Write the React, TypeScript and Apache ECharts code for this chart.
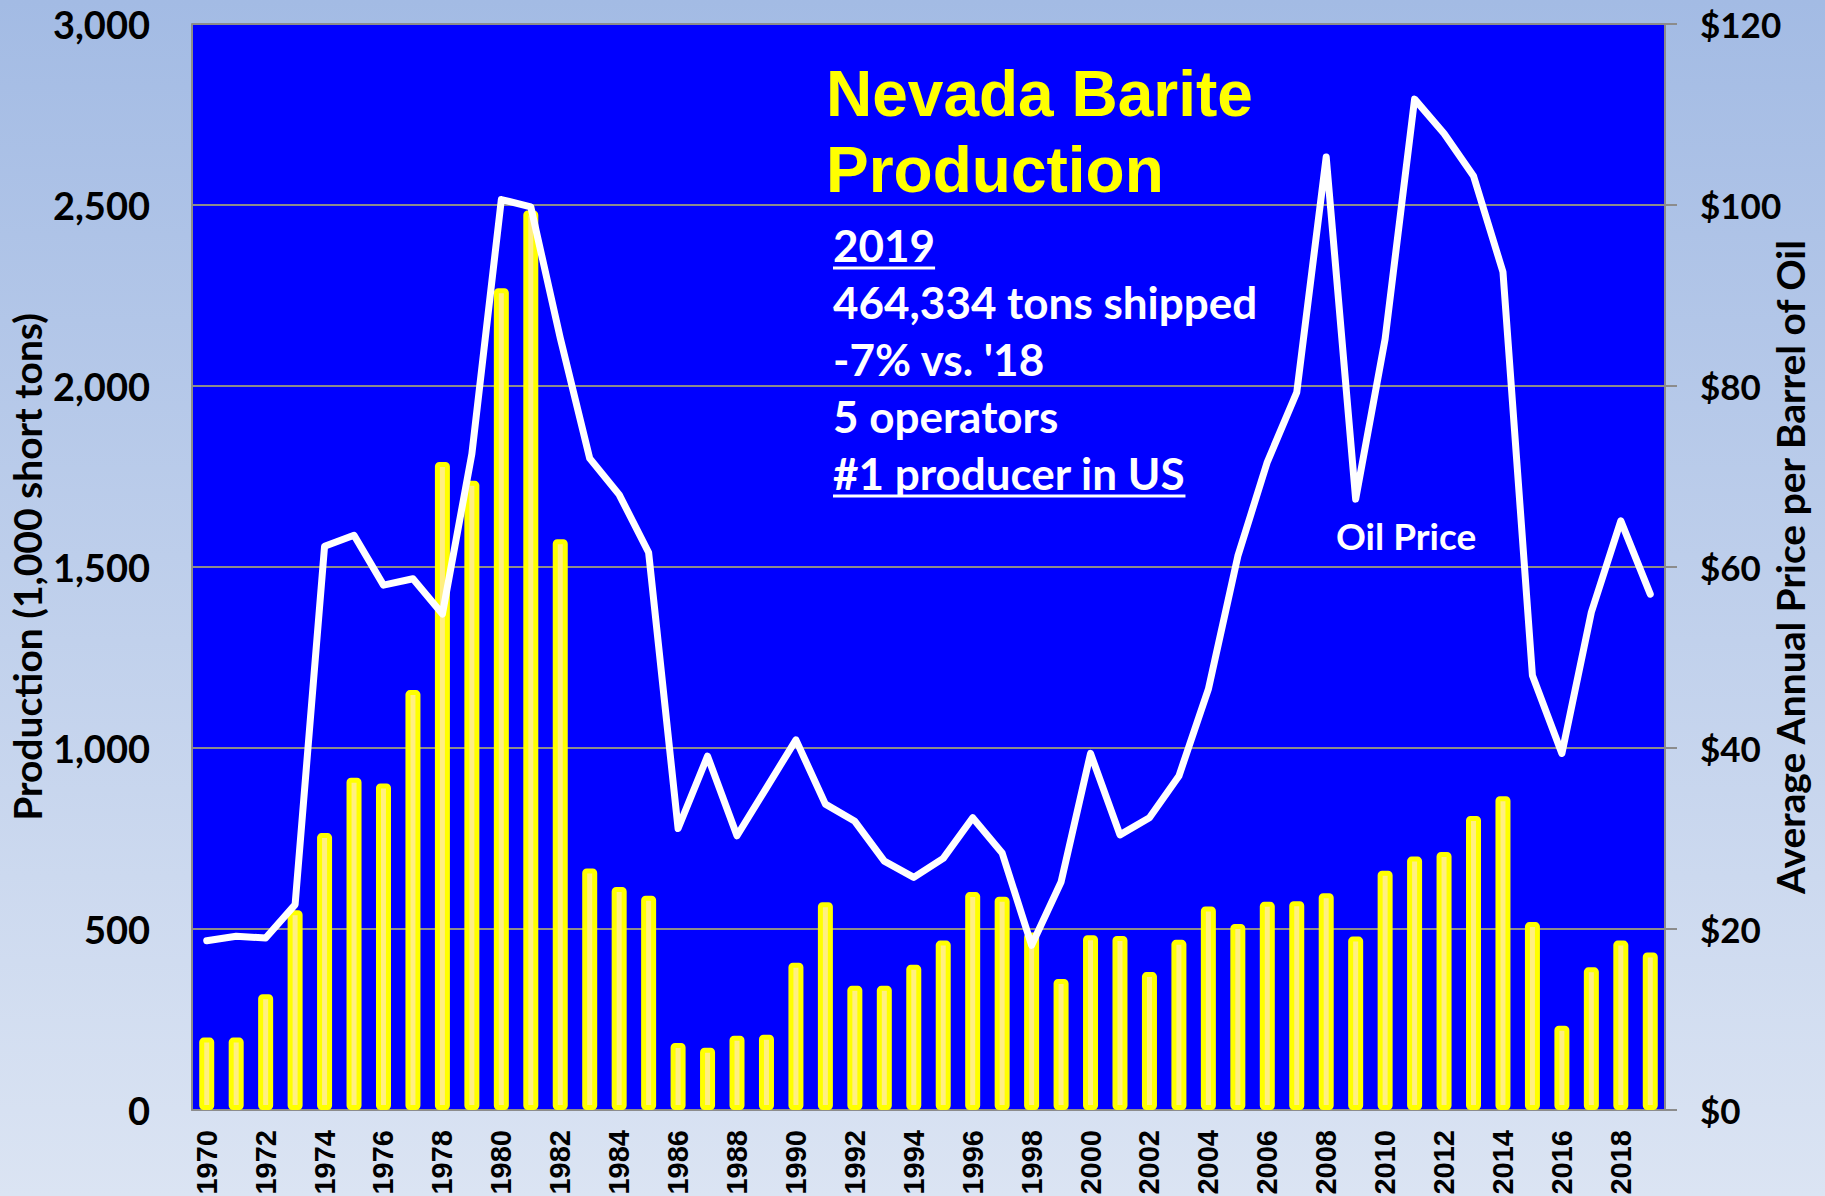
import React, { useEffect, useRef } from "react";
import * as echarts from "echarts";

const years = [
  "1970", "1971", "1972", "1973", "1974", "1975", "1976", "1977", "1978", "1979",
  "1980", "1981", "1982", "1983", "1984", "1985", "1986", "1987", "1988", "1989",
  "1990", "1991", "1992", "1993", "1994", "1995", "1996", "1997", "1998", "1999",
  "2000", "2001", "2002", "2003", "2004", "2005", "2006", "2007", "2008", "2009",
  "2010", "2011", "2012", "2013", "2014", "2015", "2016", "2017", "2018", "2019",
];

// Production (1,000 short tons)
const production = [
  200, 200, 320, 552, 765, 918, 902, 1160, 1790, 1738,
  2270, 2485, 1577, 667, 616, 592, 185, 172, 205, 208,
  407, 574, 343, 343, 401, 468, 602, 589, 490, 362,
  483, 481, 381, 470, 562, 514, 575, 577, 599, 479,
  661, 700, 713, 812, 867, 519, 233, 394, 468, 435,
];

// Average annual oil price ($/barrel)
const oilPrice = [
  18.7, 19.2, 19.0, 22.7, 62.3, 63.5, 58.0, 58.7, 54.8, 72.5,
  100.6, 99.8, 85.3, 72.0, 68.0, 61.6, 31.1, 39.1, 30.3, 35.6,
  40.9, 33.8, 31.9, 27.5, 25.7, 27.8, 32.3, 28.4, 18.2, 25.2,
  39.4, 30.4, 32.3, 36.9, 46.5, 61.2, 71.6, 79.3, 105.3, 67.5,
  85.2, 111.7, 107.9, 103.2, 92.6, 48.0, 39.4, 55.0, 65.1, 57.0,
];

const titleLines = ["Nevada Barite", "Production"];
const infoLines = ["2019", "464,334 tons shipped", "-7% vs. '18", "5 operators", "#1 producer in US"];
const underlined = [true, false, false, false, true];
const leftAxisName = "Production (1,000 short tons)";
const rightAxisName = "Average Annual Price per Barrel of Oil";
const oilLabel = "Oil Price";

function measure(text: string, font: string): number {
  const c = document.createElement("canvas").getContext("2d");
  if (!c) return text.length * 20;
  c.font = font;
  return c.measureText(text).width;
}

export default function App() {
  const ref = useRef<HTMLDivElement>(null);
  useEffect(() => {
    document.body.style.margin = "0";
    if (!ref.current) return;
    const chart = echarts.init(ref.current, undefined, { renderer: "svg" });

    const titleFs = 64;
    const infoFs = 44;
    const titleFont = `bold ${titleFs}px "Liberation Sans", Arial, sans-serif`;
    const infoFont = `bold ${infoFs}px Lato, sans-serif`;
    const titleX = 826;
    const titleBase = [116, 192];
    const infoX = 833;
    const infoBase = [261, 318, 375, 432, 489];

    const graphics: any[] = [];
    titleLines.forEach((t, i) => {
      graphics.push({
        type: "text",
        z: 100,
        style: {
          text: t, x: titleX, y: titleBase[i] - 0.35 * titleFs,
          font: titleFont, fill: "#FFFF00",
          textAlign: "left", textVerticalAlign: "middle", align: "left", verticalAlign: "middle",
        },
      });
    });
    infoLines.forEach((t, i) => {
      graphics.push({
        type: "text",
        z: 100,
        style: {
          text: t, x: infoX, y: infoBase[i] - 0.37 * infoFs,
          font: infoFont, fill: "#FFFFFF",
          textAlign: "left", textVerticalAlign: "middle", align: "left", verticalAlign: "middle",
        },
      });
      if (underlined[i]) {
        const w = measure(t, infoFont);
        graphics.push({
          type: "line",
          z: 100,
          shape: { x1: infoX, y1: infoBase[i] + 7, x2: infoX + w, y2: infoBase[i] + 7 },
          style: { stroke: "#FFFFFF", lineWidth: 3 },
        });
      }
    });
    const oilFs = 37;
    graphics.push({
      type: "text",
      z: 100,
      style: {
        text: oilLabel, x: 1336, y: 549 - 0.37 * oilFs,
        font: `bold ${oilFs}px Lato, sans-serif`, fill: "#FFFFFF",
        textAlign: "left", textVerticalAlign: "middle", align: "left", verticalAlign: "middle",
      },
    });

    const axisGrey = "#8C8C8C";
    const labelFont = { fontFamily: "Lato", fontWeight: "bold" as const, color: "#000000" };

    chart.setOption({
      animation: false,
      backgroundColor: new echarts.graphic.LinearGradient(0, 0, 0, 1, [
        { offset: 0, color: "#A3BBE4" },
        { offset: 1, color: "#DBE4F3" },
      ]),
      grid: {
        left: 192, right: 160, top: 24, bottom: 86,
        outerBoundsMode: "none",
        containLabel: false,
        show: true, backgroundColor: "#0000FF", borderWidth: 0,
      },
      xAxis: {
        type: "category",
        data: years,
        boundaryGap: true,
        axisLine: { show: true, lineStyle: { color: axisGrey, width: 2 } },
        axisTick: { show: false },
        axisLabel: {
          interval: 1, rotate: 90, margin: 20,
          fontFamily: '"Liberation Sans", Arial, sans-serif', fontWeight: "bold",
          fontSize: 29, color: "#000000",
        },
      },
      yAxis: [
        {
          type: "value", min: 0, max: 3000, interval: 500,
          name: leftAxisName, nameLocation: "middle", nameGap: 146, nameRotate: 90,
          nameMoveOverlap: false,
          nameTextStyle: { ...labelFont, fontSize: 39 },
          axisLine: { show: true, lineStyle: { color: axisGrey, width: 2 } },
          axisTick: { show: false },
          axisLabel: {
            ...labelFont, fontSize: 38, margin: 42,
            formatter: (v: number) => v.toLocaleString("en-US"),
          },
          splitLine: { show: true, lineStyle: { color: axisGrey, width: 2 } },
        },
        {
          type: "value", position: "right", min: 0, max: 120, interval: 20,
          name: rightAxisName, nameLocation: "middle", nameGap: 105, nameRotate: 90,
          nameMoveOverlap: false,
          nameTextStyle: { ...labelFont, fontSize: 39 },
          axisLine: { show: true, lineStyle: { color: axisGrey, width: 2 } },
          axisTick: { show: true, length: 12, lineStyle: { color: axisGrey, width: 2 } },
          axisLabel: {
            ...labelFont, fontSize: 35, margin: 35,
            formatter: (v: number) => "$" + v,
          },
          splitLine: { show: false },
        },
      ],
      series: [
        {
          type: "bar",
          name: "Production",
          data: production,
          yAxisIndex: 0,
          barWidth: 15,
          itemStyle: {
            color: "#FFEF82",
            borderColor: "#FFFF00",
            borderWidth: 5,
            borderRadius: 2,
          },
          z: 2,
        },
        {
          type: "line",
          name: "Oil Price",
          data: oilPrice,
          yAxisIndex: 1,
          symbol: "none",
          lineStyle: { color: "#FFFFFF", width: 7, join: "round", cap: "round" },
          z: 3,
        },
      ],
      graphic: graphics,
    });
    return () => chart.dispose();
  }, []);
  return <div ref={ref} style={{ width: 1825, height: 1196 }} />;
}
